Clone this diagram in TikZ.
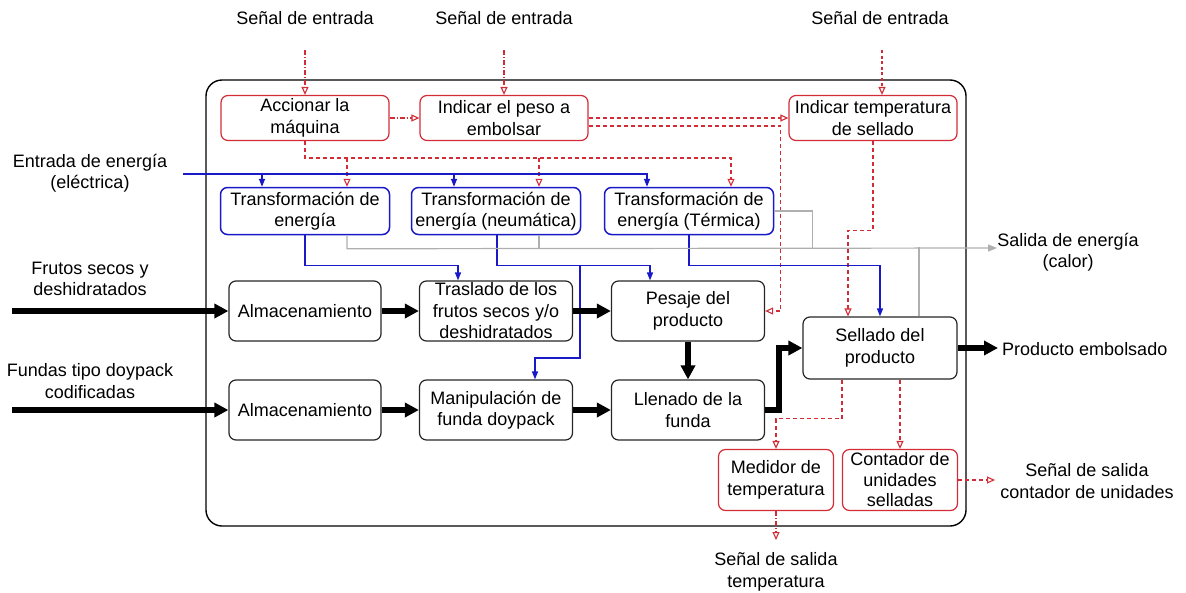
\documentclass[tikz,border=0pt]{standalone}
\usepackage{fontspec}
\setmainfont{Liberation Sans}
\usetikzlibrary{arrows.meta}
\definecolor{sigred}{RGB}{210,45,55}
\definecolor{enblue}{RGB}{25,25,200}
\definecolor{heatgray}{RGB}{175,175,175}
\begin{document}
\begin{tikzpicture}[x=1pt,y=-1pt,
  font=\fontsize{18}{21.5}\selectfont,
  box/.style={draw, rounded corners=7pt, align=center, inner sep=0pt, line width=1.2pt},
  blk/.style={box, draw=black!85},
  rbox/.style={box, draw=sigred},
  bbox/.style={box, draw=enblue, line width=1.5pt},
  lbl/.style={align=center, inner sep=0pt},
  rsig/.style={draw=sigred, line width=1.1pt, dash pattern=on 5pt off 2pt on 1pt off 2pt, -{Triangle[open,length=8pt,width=7pt]}},
  rdash/.style={draw=sigred, line width=1.1pt, dash pattern=on 4pt off 3pt, -{Triangle[open,length=8pt,width=7pt]}},
  rline/.style={draw=sigred, line width=1.1pt, dash pattern=on 4pt off 3pt},
  bline/.style={draw=enblue, line width=1.4pt},
  barr/.style={bline, -{Triangle[length=8pt,width=6pt]}},
  gline/.style={draw=heatgray, line width=1.2pt},
  garr/.style={gline, -{Triangle[length=9pt,width=7pt]}},
  flow/.style={draw=black, line width=5.5pt, -{Triangle[length=14pt,width=14pt]}},
  flowline/.style={draw=black, line width=5.5pt}
]
\useasboundingbox (0,0) rectangle (1186,592);

% frame
\node[draw, rounded corners=16pt, line width=1.4pt, minimum width=760pt, minimum height=446pt, inner sep=0pt] (frame) at (586,303) {};

% red signal boxes
\node[rbox, minimum width=168pt, minimum height=45pt] (acc) at (305,118) {Accionar la\\máquina};
\node[rbox, minimum width=168pt, minimum height=45pt] (ip) at (504,118) {Indicar el peso a\\embolsar};
\node[rbox, minimum width=168pt, minimum height=45pt] (temp) at (873,118) {Indicar temperatura\\de sellado};

% blue energy boxes
\node[bbox, minimum width=169pt, minimum height=47pt] (te1) at (305,211) {Transformación de\\energía};
\node[bbox, minimum width=169pt, minimum height=47pt] (te2) at (496,211) {Transformación de\\energía (neumática)};
\node[bbox, minimum width=169pt, minimum height=47pt] (te3) at (689,211) {Transformación de\\energía (Térmica)};

% black process boxes
\node[blk, minimum width=152pt, minimum height=60pt] (alm1) at (305,311) {Almacenamiento};
\node[blk, minimum width=153pt, minimum height=60pt] (tras) at (496,311) {Traslado de los\\frutos secos y/o\\deshidratados};
\node[blk, minimum width=153pt, minimum height=60pt] (pesa) at (688,311) {Pesaje del\\producto};
\node[blk, minimum width=152pt, minimum height=60pt] (alm2) at (305,410) {Almacenamiento};
\node[blk, minimum width=153pt, minimum height=60pt] (man) at (496,410) {Manipulación de\\funda doypack};
\node[blk, minimum width=153pt, minimum height=60pt] (llen) at (688,410) {Llenado de la\\funda};
\node[blk, minimum width=154pt, minimum height=62pt] (sell) at (880,348) {Sellado del\\producto};
\node[rbox, minimum width=115pt, minimum height=61pt] (med) at (776,480) {Medidor de\\temperatura};
\node[rbox, minimum width=115pt, minimum height=61pt, font=\fontsize{18}{20.5}\selectfont] (cont) at (900,480) {Contador de\\unidades\\selladas};

% outside labels
\node[lbl] (s1) at (305,18) {Señal de entrada};
\node[lbl] (s2) at (504,18) {Señal de entrada};
\node[lbl] (s3) at (880,18) {Señal de entrada};
\node[lbl] (elec) at (90,173) {Entrada de energía\\(eléctrica)};
\node[lbl] (frutos) at (90,279) {Frutos secos y\\deshidratados};
\node[lbl] (fundas) at (90,381) {Fundas tipo doypack\\codificadas};
\node[lbl] (calor) at (1068,252) {Salida de energía\\(calor)};
\node[lbl, anchor=west] (prod) at (1002,349) {Producto embolsado};
\node[lbl] (salc) at (1087,481) {Señal de salida\\contador de unidades};
\node[lbl] (salt) at (776,572) {Señal de salida\\temperatura};

% free ends
\coordinate (in1) at (305,50);
\coordinate (in2) at (504,50);
\coordinate (in3) at (882,50);
\coordinate (ein) at (183,174);
\coordinate (fin) at (12,311);
\coordinate (fun) at (12,410);
\coordinate (pout) at (998,348);
\coordinate (sal) at (997,248);
\coordinate (outc) at (995,480);
\coordinate (outt) at (776,540);
\coordinate (rb) at (305,158);
\coordinate (bj) at (580,265);

% red signals
\draw[rsig] (in1) -- (acc.north);
\draw[rsig] (in2) -- (ip.north);
\draw[rdash, dash pattern=on 3pt off 2.5pt] (in3) -- ([xshift=9pt]temp.north);
\draw[rsig] (acc.east) -- (ip.west);
\draw[rdash] (ip.east) -- (temp.west);
\draw[rdash] ([yshift=-8pt]ip.east) -- ++(192,0) |- (pesa.east);
\draw[rdash] (acc.south) -- (rb) -| ([xshift=42pt]te3.north);
\draw[rdash] ([xshift=42pt]te1.north |- rb) -- ([xshift=42pt]te1.north);
\draw[rdash] ([xshift=43pt]te2.north |- rb) -- ([xshift=43pt]te2.north);
\draw[rdash] (temp.south) -- ++(0,89) -| ([xshift=-32pt]sell.north);
\draw[rdash] ([xshift=-38pt]sell.south) -- ++(0,39) -| (med.north);
\draw[rdash] ([xshift=20pt]sell.south) -- (cont.north);
\draw[rdash] (cont.east) -- (outc);
\draw[rsig] (med.south) -- (outt);

% blue energy
\draw[barr] (ein) -| ([xshift=-42pt]te3.north);
\draw[barr] ([xshift=-43pt]te1.north |- ein) -- ([xshift=-43pt]te1.north);
\draw[barr] ([xshift=-42pt]te2.north |- ein) -- ([xshift=-42pt]te2.north);
\draw[barr] (te1.south) -- ++(0,30) -| ([xshift=-38pt]tras.north);
\draw[barr] ([xshift=1pt]te2.south) -- ++(0,30) -| ([xshift=-38pt]pesa.north);
\draw[barr] (bj) -- ++(0,93) -| ([xshift=39pt]man.north);
\draw[barr] (te3.south) -- ++(0,30) -| (sell.north);

% gray heat
\draw[garr] ([xshift=42pt]te1.south) -- ++(0,13.5) -- (sal);
\draw[gline] ([xshift=43pt]te2.south) -- ++(0,13.5);
\draw[gline] (te3.east) -- ++(38,0) -- ++(0,37);
\draw[gline] ([xshift=39pt]sell.north) -- ++(0,-69);

% material flow
\draw[flow] (fin) -- (alm1.west);
\draw[flow] (alm1.east) -- (tras.west);
\draw[flow] (tras.east) -- (pesa.west);
\draw[flow] (pesa.south) -- (llen.north);
\draw[flow] (fun) -- (alm2.west);
\draw[flow] (alm2.east) -- (man.west);
\draw[flow] (man.east) -- (llen.west);
\draw[flow] (llen.east) -- ++(14,0) |- (sell.west);
\draw[flow] (sell.east) -- (pout);
\end{tikzpicture}
\end{document}
